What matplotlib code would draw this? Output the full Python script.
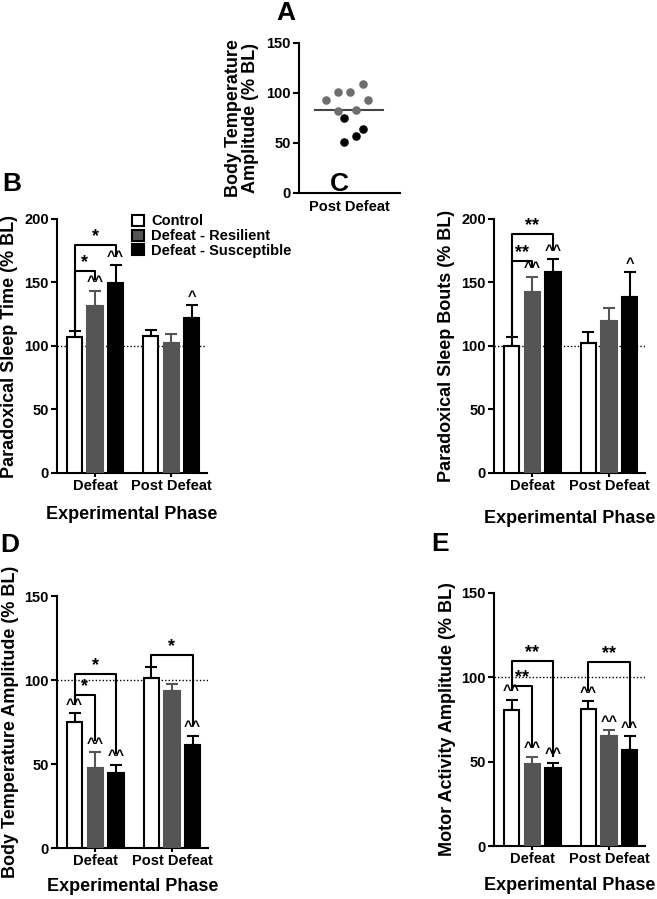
import matplotlib.pyplot as plt
import numpy as np

plt.rcParams['font.family'] = ['Liberation Sans', 'DejaVu Sans']
plt.rcParams['font.weight'] = 'bold'
plt.rcParams['axes.labelweight'] = 'bold'

# Dados
phases = ['Defeat', 'Post Defeat']
groups = ['Control', 'Defeat - Resilient', 'Defeat - Susceptible']
colors = ['white', '#555555', 'black']
err_colors = ['black', '#555555', 'black']

# Painel A: amplitude da temperatura corporal (pontos individuais)
a_resilient = [92.7, 100.7, 100.7, 109.3, 93.3, 82.3, 83.0]
a_susceptible = [75.0, 51.0, 56.7, 64.0]
a_res_jitter = [-0.47, -0.23, 0.0, 0.26, 0.37, -0.23, 0.12]
a_sus_jitter = [-0.11, -0.11, 0.12, 0.26]

# Painel B: tempo de sono paradoxal
b_mean = {'Control': [106.8, 107.9], 'Defeat - Resilient': [131.8, 102.0],
          'Defeat - Susceptible': [149.5, 122.0]}
b_sem = {'Control': [5.2, 4.7], 'Defeat - Resilient': [11.9, 7.5],
         'Defeat - Susceptible': [14.2, 10.0]}

# Painel C: episódios de sono paradoxal
c_mean = {'Control': [100.0, 102.0], 'Defeat - Resilient': [142.4, 119.5],
          'Defeat - Susceptible': [157.9, 138.9]}
c_sem = {'Control': [7.4, 9.3], 'Defeat - Resilient': [12.3, 10.8],
         'Defeat - Susceptible': [10.5, 19.0]}

# Painel D: amplitude da temperatura corporal
d_mean = {'Control': [75.1, 101.2], 'Defeat - Resilient': [47.8, 93.3],
          'Defeat - Susceptible': [44.8, 61.4]}
d_sem = {'Control': [5.1, 6.6], 'Defeat - Resilient': [9.1, 4.4],
         'Defeat - Susceptible': [4.9, 5.4]}

# Painel E: amplitude da atividade motora
e_mean = {'Control': [80.9, 81.3], 'Defeat - Resilient': [48.6, 65.1],
          'Defeat - Susceptible': [46.4, 57.2]}
e_sem = {'Control': [5.9, 4.4], 'Defeat - Resilient': [4.3, 3.4],
         'Defeat - Susceptible': [3.1, 7.9]}

# marcas "^" por barra (fase, grupo) -> texto
b_marks = {(0, 1): '^^', (0, 2): '^^', (1, 2): '^'}
c_marks = {(0, 1): '^^', (0, 2): '^^', (1, 2): '^'}
d_marks = {(0, 0): '^^', (0, 1): '^^', (0, 2): '^^', (1, 2): '^^'}
e_marks = {(0, 0): '^^', (0, 1): '^^', (0, 2): '^^',
           (1, 0): '^^', (1, 1): '^^', (1, 2): '^^'}

# colchetes: (fase, grupo esq, grupo dir, altura, fim esq, fim dir, texto)
b_brackets = [(0, 0, 2, 179.7, 112, 171, '*'), (0, 0, 1, 159, 112, 153, '*')]
c_brackets = [(0, 0, 2, 188.4, 107.4, 176, '**'), (0, 0, 1, 166.6, 107.4, 162, '**')]
d_brackets = [(0, 0, 2, 103.4, 86, 56.5, '*'), (0, 0, 1, 91.1, 86, 64.4, '*'),
              (1, 0, 2, 114.9, 107.8, 73.3, '*')]
e_brackets = [(0, 0, 2, 109.5, 92.4, 53.5, '**'), (0, 0, 1, 95.1, 92.4, 58.8, '**'),
              (1, 0, 2, 108.8, 92.4, 70.7, '**')]

W, H = 657, 899
fig = plt.figure(figsize=(W / 100, H / 100), dpi=100)


def px_axes(x0, y0, x1, y1):
    return fig.add_axes([x0 / W, 1 - y1 / H, (x1 - x0) / W, (y1 - y0) / H])


def style(ax):
    for s in ['top', 'right']:
        ax.spines[s].set_visible(False)
    for s in ['left', 'bottom']:
        ax.spines[s].set_linewidth(1.5)
    ax.tick_params(width=1.5, length=4, labelsize=10.5, pad=2)


offs = [-0.27, 0.0, 0.27]
bw = 0.2


def bar_panel(ax, means, sems, ymax, ylabel, marks, brackets, xlabel_pad, ylabel_size=13):
    x = np.arange(len(phases))
    for k, g in enumerate(groups):
        ax.bar(x + offs[k], means[g], bw, color=colors[k],
               edgecolor='black' if k != 1 else '#555555', linewidth=1.5, zorder=3)
        ax.errorbar(x + offs[k], means[g], yerr=[np.zeros(2), sems[g]], fmt='none',
                    ecolor=err_colors[k], elinewidth=1.5, capsize=4, capthick=1.5, zorder=3)
    ax.axhline(100, color='black', lw=1, ls=(0, (1, 1.5)), zorder=2)
    ax.set_xlim(-0.5, 1.47)
    ax.set_ylim(0, ymax)
    ax.set_yticks(np.arange(0, ymax + 1, 50))
    ax.set_xticks(x)
    ax.set_xticklabels(phases)
    style(ax)
    ax.tick_params(axis='x', length=3, pad=1.5)
    ax.set_ylabel(ylabel, fontsize=ylabel_size, labelpad=4)
    ax.set_xlabel('Experimental Phase', fontsize=13, labelpad=xlabel_pad)
    for (p, k), txt in marks.items():
        top = means[groups[k]][p] + sems[groups[k]][p]
        ax.annotate(txt, (p + offs[k], top), xytext=(0, 1), textcoords='offset points',
                    ha='center', va='bottom', fontsize=10.5)
    for p, g0, g1, h, e0, e1, txt in brackets:
        xa, xb = p + offs[g0], p + offs[g1]
        ax.plot([xa, xa, xb, xb], [e0, h, h, e1], color='black', lw=1.5,
                zorder=4, clip_on=False)
        ax.text((xa + xb) / 2, h, txt, ha='center', va='bottom', fontsize=13)


# Painel A
axA = px_axes(299, 43, 400, 193)
axA.scatter(a_res_jitter, a_resilient, s=38, color='#6e6e6e', zorder=3, linewidths=0)
axA.scatter(a_sus_jitter, a_susceptible, s=38, color='black', zorder=3, linewidths=0)
a_all = a_resilient + a_susceptible
axA.plot([-0.68, 0.66], [np.mean(a_all)] * 2, color='#444444', lw=1.5, zorder=2)
axA.set_xlim(-1, 1)
axA.set_ylim(0, 150)
axA.set_yticks([0, 50, 100, 150])
axA.set_xticks([0])
axA.set_xticklabels(['Post Defeat'])
style(axA)
axA.tick_params(axis='x', length=0, pad=5)
axA.set_ylabel('Body Temperature\nAmplitude (% BL)', fontsize=13, labelpad=5,
               linespacing=1.0)

axB = px_axes(57, 219, 207, 473)
bar_panel(axB, b_mean, b_sem, 200, 'Paradoxical Sleep Time (% BL)', b_marks, b_brackets, 9)
handles = [plt.Rectangle((0, 0), 1, 1, facecolor=c, edgecolor='black', lw=1.5) for c in colors]
axB.legend(handles, groups, loc='upper left', bbox_to_anchor=(0.5, 1.018), frameon=False,
           fontsize=10.5, handlelength=0.85, handleheight=0.8, handletextpad=0.45,
           labelspacing=0.05, borderaxespad=0, borderpad=0)

axC = px_axes(494, 219, 645, 473)
bar_panel(axC, c_mean, c_sem, 200, 'Paradoxical Sleep Bouts (% BL)', c_marks, c_brackets, 12)

axD = px_axes(57, 596, 208, 848)
bar_panel(axD, d_mean, d_sem, 150, 'Body Temperature Amplitude (% BL)', d_marks, d_brackets, 7)

axE = px_axes(494, 593, 645, 846)
bar_panel(axE, e_mean, e_sem, 150, 'Motor Activity Amplitude (% BL)', e_marks, e_brackets, 8)

for lab, (x, y) in {'A': (286, 13), 'B': (12, 184), 'C': (339, 184),
                    'D': (10, 545), 'E': (440, 544)}.items():
    fig.text(x / W, 1 - y / H, lab, fontsize=19, ha='center', va='center')

plt.savefig('out.png', dpi=100)
